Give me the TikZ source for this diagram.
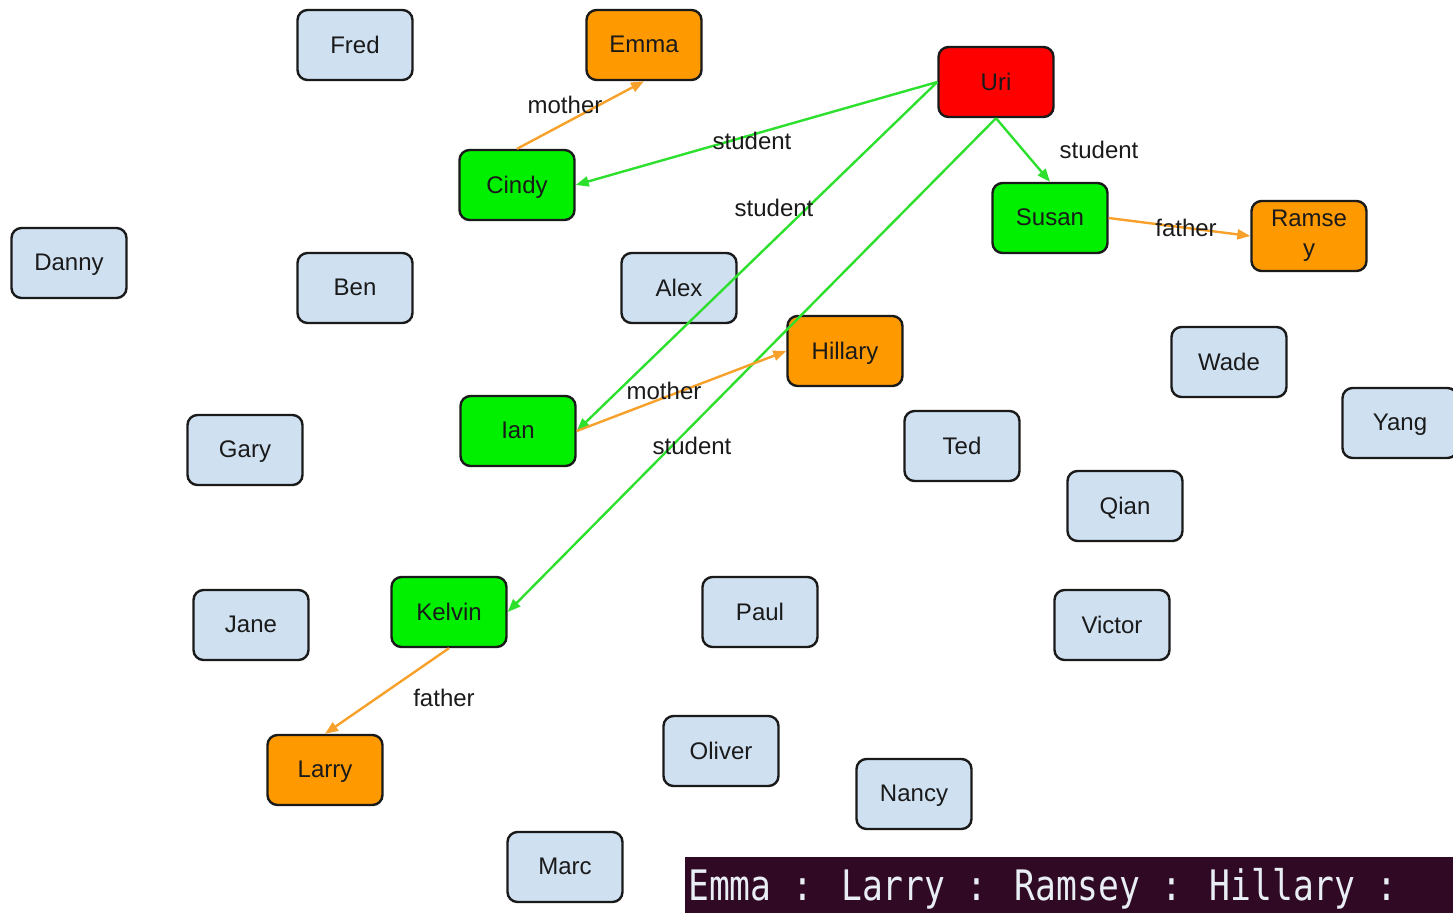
\documentclass[tikz,border=0pt]{standalone}
\usepackage{fontspec}
\setmainfont{Liberation Sans}
\newfontfamily\termfont{DejaVu Sans Mono}
\usetikzlibrary{arrows.meta}
\definecolor{boxblue}{HTML}{CFE0F1}
\definecolor{boxgreen}{HTML}{00F000}
\definecolor{boxorange}{HTML}{FF9900}
\definecolor{boxred}{HTML}{FF0000}
\definecolor{linegreen}{HTML}{2EE02E}
\definecolor{lineorange}{HTML}{F7A12A}
\definecolor{termbg}{HTML}{300A24}
\definecolor{termfg}{HTML}{E8EEF4}
\definecolor{txt}{HTML}{1A1A1A}
\tikzset{
  person/.style={draw=txt, line width=2.4pt, rounded corners=10pt, minimum width=115pt, minimum height=70pt, inner sep=0pt, align=center, text=txt, font=\fontsize{24}{30}\selectfont, text depth=1pt},
  plain/.style={person, fill=boxblue},
  grn/.style={person, fill=boxgreen},
  org/.style={person, fill=boxorange},
  rd/.style={person, fill=boxred},
  rel/.style={line width=2.4pt, -{Triangle[length=13pt,width=10pt]}},
  studentedge/.style={rel, draw=linegreen},
  familyedge/.style={rel, draw=lineorange},
  lbl/.style={text=txt, font=\fontsize{24}{29}\selectfont, inner sep=0pt}
}
\begin{document}
\begin{tikzpicture}[x=1pt,y=-1pt]
\useasboundingbox (0,0) rectangle (1453,913);
% nodes
\node[plain] (fred) at (355,45) {Fred};
\node[org] (emma) at (644,45) {Emma};
\node[rd] (uri) at (996,82) {Uri};
\node[grn] (cindy) at (517,185) {Cindy};
\node[grn] (susan) at (1050,218) {Susan};
\node[org, text depth=6pt] (ramsey) at (1309,236) {Ramse\\y};
\node[plain] (danny) at (69,263) {Danny};
\node[plain] (ben) at (355,288) {Ben};
\node[plain] (alex) at (679,288) {Alex};
\node[org] (hillary) at (845,351) {Hillary};
\node[plain] (wade) at (1229,362) {Wade};
\node[plain] (yang) at (1400,423) {Yang};
\node[plain] (gary) at (245,450) {Gary};
\node[grn] (ian) at (518,431) {Ian};
\node[plain] (ted) at (962,446) {Ted};
\node[plain] (qian) at (1125,506) {Qian};
\node[plain] (jane) at (251,625) {Jane};
\node[grn] (kelvin) at (449,612) {Kelvin};
\node[plain] (paul) at (760,612) {Paul};
\node[plain] (victor) at (1112,625) {Victor};
\node[org] (larry) at (325,770) {Larry};
\node[plain] (oliver) at (721,751) {Oliver};
\node[plain] (nancy) at (914,794) {Nancy};
\node[plain] (marc) at (565,867) {Marc};
% edges
\draw[familyedge] (cindy.north) -- (emma.south);
\draw[studentedge] (uri.west) -- (cindy.east);
\draw[studentedge] (uri.west) -- (ian.east);
\draw[studentedge] (uri.south) -- (kelvin.east);
\draw[studentedge] (uri.south) -- (susan.north);
\draw[familyedge] (susan.east) -- (ramsey.west);
\draw[familyedge] (ian.east) -- (hillary.west);
\draw[familyedge] (kelvin.south) -- (larry.north);
% labels
\node[lbl] (l1) at (565,105) {mother};
\node[lbl] (l2) at (752,141) {student};
\node[lbl] (l3) at (774,208) {student};
\node[lbl] (l4) at (1099,150) {student};
\node[lbl] (l5) at (1186,228) {father};
\node[lbl] (l6) at (664,391) {mother};
\node[lbl] (l7) at (692,446) {student};
\node[lbl] (l8) at (444,698) {father};
% terminal strip
\fill[termbg] (685,857) rectangle (1453,913);
\node[anchor=base west, text=termfg, inner sep=0pt, xscale=0.99, yscale=1.2, transform shape, font=\termfont\fontsize{35}{40}\selectfont] (term) at (688,900) {Emma : Larry : Ramsey : Hillary :};
\end{tikzpicture}
\end{document}
